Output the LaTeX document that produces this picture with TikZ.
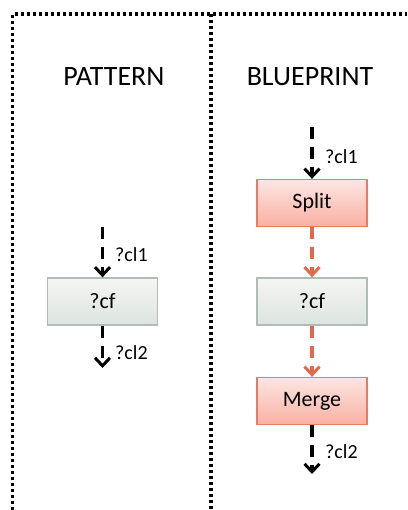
\documentclass[tikz,border=0pt]{standalone}
\usepackage{fontspec}
\setmainfont{Carlito}
\usetikzlibrary{arrows.meta}
\definecolor{orangec}{HTML}{E06A4E}
\definecolor{pinktop}{HTML}{FDE6E2}
\definecolor{pinkbot}{HTML}{F9B0A2}
\definecolor{pinkline}{HTML}{E57D64}
\definecolor{graytop}{HTML}{F4F6F4}
\definecolor{graybot}{HTML}{DCE4DF}
\definecolor{grayline}{HTML}{AFBDB5}
\tikzset{
  frameline/.style={line width=3.2pt, dash pattern=on 3pt off 3pt, line cap=butt},
  title/.style={font=\fontsize{28}{30}\selectfont, inner sep=0pt},
  lbl/.style={font=\fontsize{20}{22}\selectfont, anchor=west, inner sep=0pt},
  box/.style={minimum width=110pt, minimum height=47pt, inner sep=0pt, line width=1.3pt, font=\fontsize{22}{24}\selectfont},
  redbox/.style={box, draw=pinkline, top color=pinktop, bottom color=pinkbot},
  graybox/.style={box, draw=grayline, top color=graytop, bottom color=graybot},
  flow/.style={line width=3.4pt, dash pattern=on 12pt off 8pt, -{Straight Barb[length=8pt,width=15pt,line width=3pt]}},
  blackflow/.style={flow, draw=black},
  orangeflow/.style={flow, draw=orangec},
}
\begin{document}
\begin{tikzpicture}[x=1pt,y=-1pt]
\useasboundingbox (0,0) rectangle (407,510);
% frame
\draw[frameline] (12.5,510) -- (12.5,14) -- (407,14);
\draw[frameline] (211,14) -- (211,510);
% titles
\node[title] (tp) at (114,77) {PATTERN};
\node[title] (tb) at (310,77) {BLUEPRINT};
% pattern
\coordinate (pin) at (102.5,227);
\node[graybox] (pcf) at (102.5,301.5) {?cf};
\coordinate (pout) at (102.5,368);
\draw[blackflow] (pin) -- (pcf.north);
\draw[blackflow] (pcf.south) -- (pout);
\node[lbl] (pl1) at (115,255) {?cl1};
\node[lbl] (pl2) at (115,353) {?cl2};
% blueprint
\coordinate (bin) at (312,127);
\node[redbox] (split) at (312,203) {Split};
\node[graybox] (bcf) at (312,301.5) {?cf};
\node[redbox] (merge) at (312,401) {Merge};
\coordinate (bout) at (312,474);
\draw[blackflow] (bin) -- (split.north);
\draw[orangeflow] (split.south) -- (bcf.north);
\draw[orangeflow] (bcf.south) -- (merge.north);
\draw[blackflow] (merge.south) -- (bout);
\node[lbl] (bl1) at (325,157) {?cl1};
\node[lbl] (bl2) at (325,452) {?cl2};
\end{tikzpicture}
\end{document}
